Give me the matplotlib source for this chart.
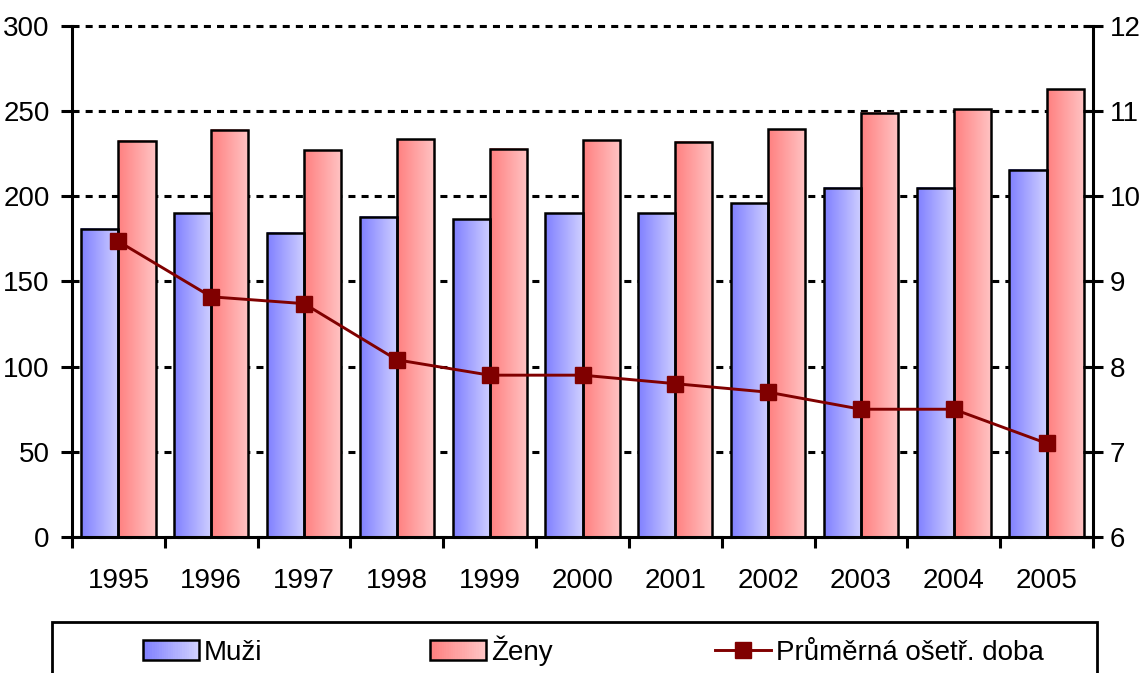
import numpy as np
import matplotlib
matplotlib.use("Agg")
import matplotlib.pyplot as plt
from matplotlib.patches import Rectangle
from matplotlib.lines import Line2D
from matplotlib.colors import LinearSegmentedColormap
from matplotlib.legend_handler import HandlerBase

years = ['1995', '1996', '1997', '1998', '1999', '2000', '2001', '2002', '2003', '2004', '2005']
muzi = [181, 190, 178.5, 188, 186.5, 190, 190, 196, 205, 205, 215.5]
zeny = [232.5, 239, 227, 233.5, 228, 233, 232, 239.5, 249, 251, 263]
doba = [9.47, 8.82, 8.74, 8.08, 7.9, 7.9, 7.8, 7.7, 7.5, 7.5, 7.1]
labels = ['Muži', 'Ženy', 'Průměrná ošetř. doba']

plt.rcParams['font.family'] = ['Liberation Sans Narrow', 'Liberation Sans', 'DejaVu Sans']
FS = 20

blue_cm = LinearSegmentedColormap.from_list('b', ['#8080ff', '#cfcfff'])
red_cm = LinearSegmentedColormap.from_list('r', ['#ff8080', '#ffc4c4'])
grad = np.linspace(0, 1, 64).reshape(1, -1)


# gradient rectangle for the legend
class GradHandler(HandlerBase):
    def __init__(self, cmap):
        super().__init__()
        self.cmap = cmap

    def create_artists(self, legend, orig_handle, xd, yd, w, h, fontsize, trans):
        arts = []
        n = 24
        for i in range(n):
            arts.append(Rectangle((-xd + w * i / n, -yd), w / n + 0.3, h,
                                  facecolor=self.cmap(i / (n - 1)), edgecolor='none',
                                  transform=trans))
        arts.append(Rectangle((-xd, -yd), w, h, facecolor='none', edgecolor='black',
                              lw=1.8, transform=trans))
        return arts


fig = plt.figure(figsize=(11.45, 6.73), dpi=100)
ax = fig.add_axes([0.0629, 0.2021, 0.8917, 0.7593])
x = np.arange(len(years))
w = 0.4

b1 = ax.bar(x - w / 2, muzi, w, facecolor='none', edgecolor='black', lw=1.8, zorder=3)
b2 = ax.bar(x + w / 2, zeny, w, facecolor='none', edgecolor='black', lw=1.8, zorder=3)
for bars, cm in [(b1, blue_cm), (b2, red_cm)]:
    for r in bars:
        x0, h, bw = r.get_x(), r.get_height(), r.get_width()
        ax.imshow(grad, cmap=cm, aspect='auto', extent=(x0, x0 + bw, 0, h),
                  zorder=2, interpolation='bilinear')

ax.set_xlim(-0.5, len(years) - 0.5)
ax.set_ylim(0, 300)
ax.set_yticks(range(0, 301, 50))
ax.yaxis.grid(True, color='black', linestyle=(0, (2.3, 2.0)), lw=2.2)
for gl in ax.get_ygridlines():
    gl.set_clip_on(False)
ax.set_axisbelow(True)
ax.set_xticks(np.arange(len(years) + 1) - 0.5)
ax.set_xticklabels([])
ax.set_xticks(x, minor=True)
ax.set_xticklabels(years, minor=True)
ax.tick_params(axis='x', which='major', direction='out', length=8, width=2.2)
ax.tick_params(axis='x', which='minor', length=0, pad=22, labelsize=FS)
ax.tick_params(axis='y', direction='out', length=8, width=2.2, labelsize=FS, pad=8)
ax.spines['top'].set_visible(False)
ax.spines['right'].set_visible(False)
for s in ['left', 'bottom']:
    ax.spines[s].set_linewidth(2.2)

ax2 = ax.twinx()
ax2.plot(x, doba, color='#800000', lw=2.1, marker='s', markersize=11.5, zorder=5)
ax2.set_ylim(6, 12)
ax2.set_yticks(range(6, 13))
ax2.tick_params(axis='y', direction='inout', length=14, width=2.2, labelsize=FS, pad=5)
for s in ['top', 'left', 'bottom']:
    ax2.spines[s].set_visible(False)
ax2.spines['right'].set_linewidth(2.2)

# legend frame (runs off the bottom edge)
fig.patches.append(Rectangle((52 / 1145, -0.05), (1097 - 52) / 1145, 0.05 + (673 - 622) / 673,
                             transform=fig.transFigure, facecolor='white',
                             edgecolor='black', lw=2))
hm = Rectangle((0, 0), 1, 1)
hz = Rectangle((0, 0), 1, 1)
hl = Line2D([], [], color='#800000', lw=2.1, marker='s', markersize=11.5)
handles = [hm, hz, hl]
hmap = {hm: GradHandler(blue_cm), hz: GradHandler(red_cm)}
starts = [143, 430, 715]
for hd, lab, xs in zip(handles, labels, starts):
    fig.legend([hd], [lab], handler_map=hmap, loc='lower left',
               bbox_to_anchor=(xs / 1145, 1 - 666 / 673), frameon=False,
               fontsize=FS, handlelength=2.0, handleheight=0.75,
               handletextpad=0.2, borderpad=0, borderaxespad=0)

fig.savefig('out.png', dpi=100)
